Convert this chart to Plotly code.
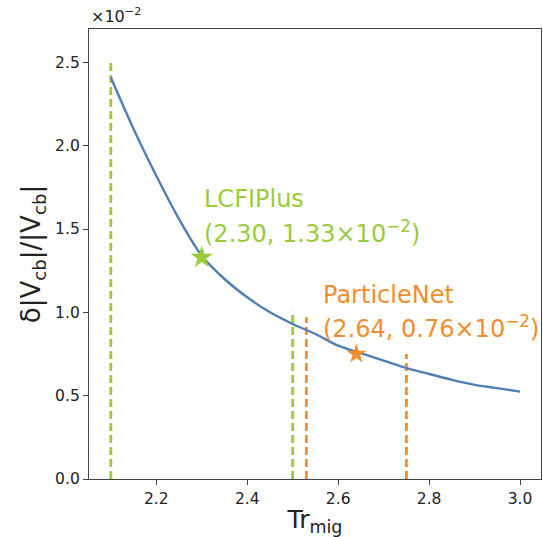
import plotly.graph_objects as go

# Data (values in units of 1e-2)
tr_mig = [2.10, 2.15, 2.20, 2.25, 2.30, 2.35, 2.40, 2.45, 2.50, 2.55,
          2.60, 2.65, 2.70, 2.75, 2.80, 2.85, 2.90, 2.95, 3.00]
dv_over_v = [2.41, 2.10, 1.82, 1.56, 1.34, 1.20, 1.09, 1.00, 0.93, 0.87,
             0.80, 0.755, 0.71, 0.665, 0.63, 0.595, 0.565, 0.545, 0.524]

lcfi_point = (2.30, 1.33)
pnet_point = (2.64, 0.75)
lcfi_lines = [(2.10, 2.52), (2.50, 1.01)]
pnet_lines = [(2.53, 0.97), (2.75, 0.75)]

x_ticks = [2.2, 2.4, 2.6, 2.8, 3.0]
y_ticks = [0.0, 0.5, 1.0, 1.5, 2.0, 2.5]

BLUE = "#4f7fb6"
GREEN = "#9acb3c"
ORANGE = "#f28e2b"
FONT = "DejaVu Sans"

fig = go.Figure()

for xv, top in lcfi_lines:
    fig.add_trace(go.Scatter(x=[xv, xv], y=[0, top], mode="lines",
                             line=dict(color=GREEN, width=2.8, dash="8px,4px"),
                             showlegend=False, hoverinfo="skip"))
for xv, top in pnet_lines:
    fig.add_trace(go.Scatter(x=[xv, xv], y=[0, top], mode="lines",
                             line=dict(color=ORANGE, width=2.8, dash="8px,4px"),
                             showlegend=False, hoverinfo="skip"))

fig.add_trace(go.Scatter(x=tr_mig, y=dv_over_v, mode="lines",
                         line=dict(color=BLUE, width=2.4, shape="spline"),
                         showlegend=False))

fig.add_trace(go.Scatter(x=[lcfi_point[0]], y=[lcfi_point[1]], mode="markers",
                         marker=dict(symbol="star", size=17, color=GREEN),
                         showlegend=False))
fig.add_trace(go.Scatter(x=[pnet_point[0]], y=[pnet_point[1]], mode="markers",
                         marker=dict(symbol="star", size=15, color=ORANGE),
                         showlegend=False))

ann_font = 24
fig.add_annotation(x=2.300, y=1.68, text="LCFIPlus", showarrow=False,
                   xanchor="left", yanchor="middle",
                   font=dict(family=FONT, size=ann_font, color=GREEN))
fig.add_annotation(x=2.300, y=1.48, text="(2.30, 1.33×10<sup>−2</sup>)", showarrow=False,
                   xanchor="left", yanchor="middle",
                   font=dict(family=FONT, size=ann_font, color=GREEN))
fig.add_annotation(x=2.562, y=1.105, text="ParticleNet", showarrow=False,
                   xanchor="left", yanchor="middle",
                   font=dict(family=FONT, size=ann_font, color=ORANGE))
fig.add_annotation(x=2.562, y=0.915, text="(2.64, 0.76×10<sup>−2</sup>)", showarrow=False,
                   xanchor="left", yanchor="middle",
                   font=dict(family=FONT, size=ann_font, color=ORANGE))

fig.add_annotation(x=0, y=1, xref="paper", yref="paper", text="×10<sup>−2</sup>",
                   showarrow=False, xanchor="left", yanchor="bottom", yshift=1,
                   font=dict(family=FONT, size=16, color="#222"))

axis_common = dict(showline=True, mirror=True, linecolor="#444", linewidth=1.3,
                   ticks="outside", ticklen=5, tickwidth=1.2, tickcolor="#444",
                   showgrid=False, zeroline=False,
                   tickfont=dict(family=FONT, size=15.5, color="#222"))

fig.update_layout(
    width=543, height=537,
    margin=dict(l=89, r=2, t=29, b=58),
    plot_bgcolor="white", paper_bgcolor="white",
    xaxis=dict(range=[2.052, 3.046], tickvals=x_ticks,
               ticktext=[f"{v:.1f}" for v in x_ticks],
               title=dict(text="Tr<sub>mig</sub>", standoff=4,
                          font=dict(family=FONT, size=25, color="#222")),
               **axis_common),
    yaxis=dict(range=[0, 2.70], tickvals=y_ticks,
               ticktext=[f"{v:.1f}" for v in y_ticks],
               title=dict(text="δ|V<sub>cb</sub>|/|V<sub>cb</sub>|", standoff=6,
                          font=dict(family=FONT, size=26, color="#222")),
               **axis_common),
)

fig.write_html("out.html")
